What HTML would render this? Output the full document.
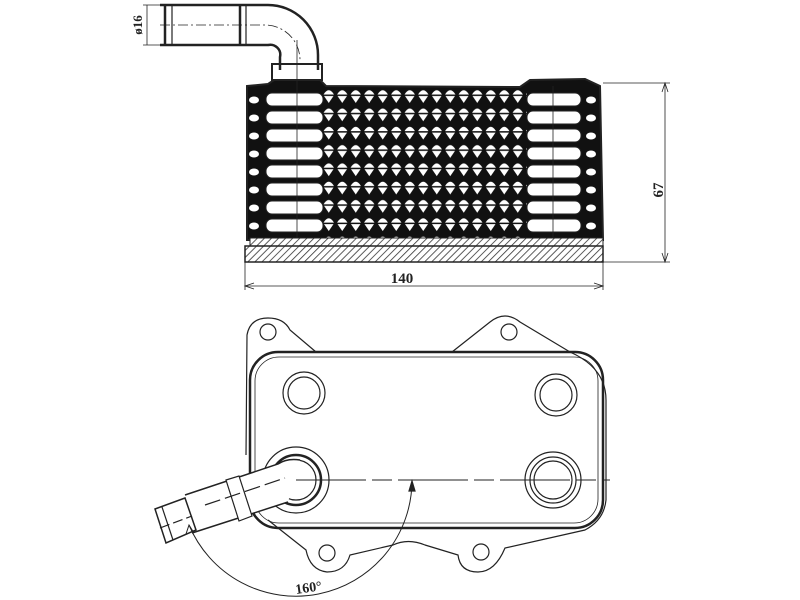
<!DOCTYPE html>
<html><head><meta charset="utf-8"><style>
html,body{margin:0;padding:0;background:#fff;}
svg{display:block;}
text{font-family:"Liberation Serif",serif;font-weight:bold;fill:#222;}
</style></head><body>
<svg width="800" height="600" viewBox="0 0 800 600" xmlns="http://www.w3.org/2000/svg">
<defs>
<pattern id="fin" x="322" y="86" width="13.5" height="18.3" patternUnits="userSpaceOnUse">
<rect width="13.5" height="18.3" fill="#111"/>
<path d="M1.5 8.5 Q6.75 0 12 8.5 Z" fill="#fff"/>
<path d="M2 10 L11.5 10 L6.75 17 Z" fill="#fff"/>
</pattern>
<pattern id="hatch" width="5" height="5" patternUnits="userSpaceOnUse" patternTransform="rotate(45)">
<rect width="5" height="5" fill="#fff"/><line x1="0" y1="0" x2="0" y2="5" stroke="#333" stroke-width="1.6"/>
</pattern>
</defs>
<g fill="none" stroke="#222" stroke-width="1.2">
<path d="M160 5 L268 5 A50 50 0 0 1 318 55 L318 70 M160 45 L268 45 A10 10 0 0 1 280 57 L280 70" stroke-width="2.5"/>
<line x1="165" y1="5" x2="165" y2="45" stroke-width="2.5"/>
<line x1="172" y1="5" x2="172" y2="45"/>
<line x1="240" y1="5" x2="240" y2="45" stroke-width="2.5"/>
<line x1="246" y1="5" x2="246" y2="45"/>
<path d="M160 25 L265 25 A35 35 0 0 1 300 60" stroke-dasharray="10 3 2 3" stroke-width="0.8"/>
<line x1="143" y1="5" x2="165" y2="5" stroke-width="0.8"/>
<line x1="143" y1="45" x2="165" y2="45" stroke-width="0.8"/>
<line x1="147" y1="5" x2="147" y2="45" stroke-width="0.8"/>
<rect x="272" y="64" width="50" height="16" stroke-width="2"/>
<path d="M247 86 L268 84 L274 80 L320 80 L326 86 L520 87 L530 80 L585 79 L600 86 L603 240 L247 240 Z" fill="#111" stroke-width="2"/>
<rect x="322" y="88" width="205" height="150" fill="url(#fin)" stroke="none"/>
</g>
<g fill="#fff" stroke="#222" stroke-width="1">
<rect x="266" y="93" width="57" height="13" rx="6"/>
<rect x="266" y="111" width="57" height="13" rx="6"/>
<rect x="266" y="129" width="57" height="13" rx="6"/>
<rect x="266" y="147" width="57" height="13" rx="6"/>
<rect x="266" y="165" width="57" height="13" rx="6"/>
<rect x="266" y="183" width="57" height="13" rx="6"/>
<rect x="266" y="201" width="57" height="13" rx="6"/>
<rect x="266" y="219" width="57" height="13" rx="6"/>
<rect x="527" y="93" width="54" height="13" rx="6"/>
<rect x="527" y="111" width="54" height="13" rx="6"/>
<rect x="527" y="129" width="54" height="13" rx="6"/>
<rect x="527" y="147" width="54" height="13" rx="6"/>
<rect x="527" y="165" width="54" height="13" rx="6"/>
<rect x="527" y="183" width="54" height="13" rx="6"/>
<rect x="527" y="201" width="54" height="13" rx="6"/>
<rect x="527" y="219" width="54" height="13" rx="6"/>
</g>
<g fill="#fff">
<ellipse cx="254" cy="100" rx="5" ry="3.5"/><ellipse cx="254" cy="118" rx="5" ry="3.5"/><ellipse cx="254" cy="136" rx="5" ry="3.5"/><ellipse cx="254" cy="154" rx="5" ry="3.5"/><ellipse cx="254" cy="172" rx="5" ry="3.5"/><ellipse cx="254" cy="190" rx="5" ry="3.5"/><ellipse cx="254" cy="208" rx="5" ry="3.5"/><ellipse cx="254" cy="226" rx="5" ry="3.5"/>
<ellipse cx="591" cy="100" rx="5" ry="3.5"/><ellipse cx="591" cy="118" rx="5" ry="3.5"/><ellipse cx="591" cy="136" rx="5" ry="3.5"/><ellipse cx="591" cy="154" rx="5" ry="3.5"/><ellipse cx="591" cy="172" rx="5" ry="3.5"/><ellipse cx="591" cy="190" rx="5" ry="3.5"/><ellipse cx="591" cy="208" rx="5" ry="3.5"/><ellipse cx="591" cy="226" rx="5" ry="3.5"/>
</g>
<g fill="none" stroke="#222" stroke-width="1">
<line x1="297" y1="40" x2="297" y2="262" stroke-width="0.8"/>
<line x1="553" y1="86" x2="553" y2="262" stroke-width="0.8"/>
<rect x="250" y="238" width="353" height="8" fill="url(#hatch)"/>
<rect x="245" y="246" width="358" height="16" fill="url(#hatch)" stroke-width="1.5"/>
<line x1="603" y1="83" x2="670" y2="83" stroke-width="0.8"/>
<line x1="603" y1="262" x2="670" y2="262" stroke-width="0.8"/>
<line x1="665" y1="83" x2="665" y2="262" stroke-width="0.8"/>
<path d="M662 92 L665 83 L668 92 M662 253 L665 262 L668 253" stroke-width="0.8"/>
<line x1="245" y1="262" x2="245" y2="290" stroke-width="0.8"/>
<line x1="603" y1="262" x2="603" y2="290" stroke-width="0.8"/>
<line x1="245" y1="286" x2="603" y2="286" stroke-width="0.8"/>
<path d="M254 283 L245 286 L254 289 M594 283 L603 286 L594 289" stroke-width="0.8"/>
</g>
<text x="402" y="283" font-size="15" text-anchor="middle">140</text>
<text x="0" y="0" font-size="15" text-anchor="middle" transform="translate(663,190) rotate(-90)">67</text>
<text x="0" y="0" font-size="13" text-anchor="middle" transform="translate(142,25) rotate(-90)">ø16</text>
<g fill="none" stroke="#222" stroke-width="1.2">
<path d="M246 455 L247 335 Q250 318 268 318 Q284 318 290 330 L316 352"/>
<path d="M452 352 L490 322 Q505 310 520 322 L570 352 Q606 368 606 400 L606 500 Q604 520 585 530 L505 548 Q495 572 478 572 Q460 572 458 555 L425 545 Q408 538 393 545 L350 555 Q345 572 327 572 Q310 570 306 550 L268 520"/>
<rect x="250" y="352" width="353" height="176" rx="28" stroke-width="2.5"/>
<rect x="255" y="357" width="343" height="166" rx="24" stroke-width="0.8"/>
<circle cx="268" cy="332" r="8"/>
<circle cx="509" cy="332" r="8"/>
<circle cx="327" cy="553" r="8"/>
<circle cx="481" cy="552" r="8"/>
<circle cx="304" cy="393" r="21"/><circle cx="304" cy="393" r="16"/>
<circle cx="556" cy="395" r="21"/><circle cx="556" cy="395" r="16"/>
<circle cx="553" cy="480" r="28"/><circle cx="553" cy="480" r="23"/><circle cx="553" cy="480" r="19"/>
<circle cx="296" cy="480" r="33"/>
<circle cx="296" cy="480" r="25" stroke-width="2.5"/>
<circle cx="296" cy="480" r="20"/>
<path d="M300 460 Q288 458 278 464 L158 506 L170 542 L288 502" fill="#fff" stroke="none"/>
<path d="M300 460 Q287 458 278 464 L185 495 M288 502 L192 533" stroke-width="1.5"/>
<path d="M226 480 L239 476 L252 516 L239 521 Z" fill="#fff"/>
<path d="M155 509 L185 498 L196 530 L166 543 Z" fill="#fff" stroke-width="1.5"/>
<line x1="162" y1="507" x2="173" y2="540"/>
<line x1="160" y1="528" x2="192" y2="516" stroke-dasharray="10 4"/>
<line x1="205" y1="505" x2="285" y2="478" stroke-dasharray="16 5"/>
<line x1="296" y1="480" x2="610" y2="480" stroke-dasharray="70 6 20 6" stroke-width="0.9"/>
<path d="M412 481 A116 116 0 0 1 189 525" stroke-width="1"/>
<path d="M409 491 L412 481 L415 491 Z" fill="#222"/>
<path d="M186 534 L189 525 L194 533" stroke-width="1"/>
</g>
<text x="0" y="0" font-size="14" transform="translate(296,594) rotate(-8)">160°</text>
</svg>
</body></html>
